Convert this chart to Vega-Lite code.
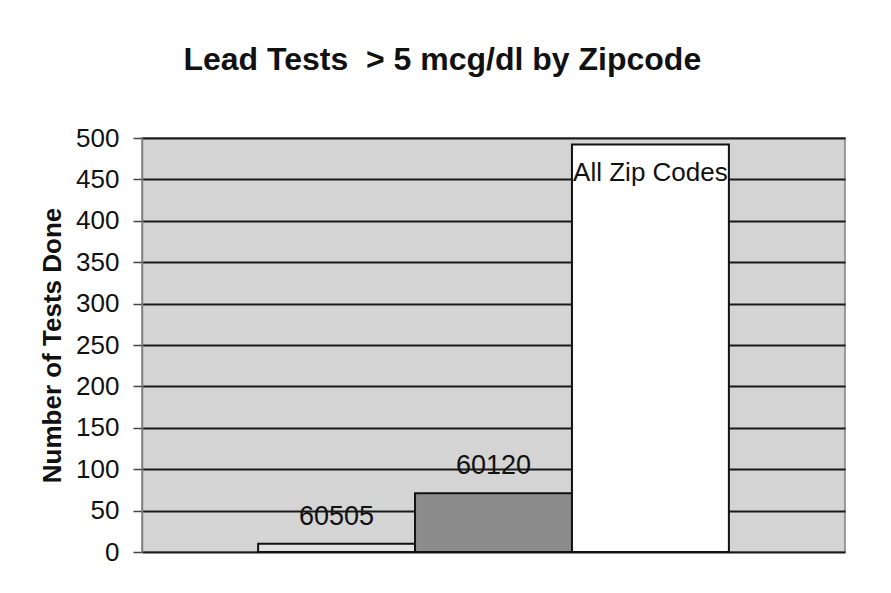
{
  "$schema": "https://vega.github.io/schema/vega-lite/v6.json",
  "width": 703,
  "height": 414,
  "autosize": "none",
  "padding": {"left": 142, "top": 138, "right": 46, "bottom": 41},
  "background": "white",
  "title": {
    "text": "Lead Tests \u00a0> 5 mcg/dl by Zipcode",
    "font": "Liberation Sans",
    "fontSize": 32,
    "fontWeight": "bold",
    "color": "#111111",
    "anchor": "middle",
    "frame": "bounds",
    "offset": 48
  },
  "config": {
    "view": {"fill": "#d4d4d4", "stroke": "#808080", "strokeWidth": 1.5}
  },
  "data": {
    "values": [
      {"zip": "60505", "tests": 10},
      {"zip": "60120", "tests": 71},
      {"zip": "All Zip Codes", "tests": 492}
    ]
  },
  "encoding": {
    "x": {
      "field": "zip",
      "type": "nominal",
      "sort": null,
      "scale": {"paddingInner": 0, "paddingOuter": 0.74},
      "axis": null
    }
  },
  "layer": [
    {
      "mark": {"type": "bar", "stroke": "#111111", "strokeWidth": 2},
      "encoding": {
        "y": {
          "field": "tests",
          "type": "quantitative",
          "scale": {"domain": [0, 500]},
          "axis": {
            "values": [0, 50, 100, 150, 200, 250, 300, 350, 400, 450, 500],
            "title": "Number of Tests Done",
            "titleFont": "Liberation Sans",
            "titleFontSize": 26,
            "titleFontWeight": "bold",
            "titleColor": "#111111",
            "titlePadding": 10,
            "labelFont": "Liberation Sans",
            "labelFontSize": 26,
            "labelColor": "#111111",
            "labelPadding": 14,
            "tickSize": 9,
            "tickColor": "#444444",
            "tickWidth": 1.5,
            "domainColor": "#808080",
            "domainWidth": 1.5,
            "grid": true,
            "gridColor": "#1a1a1a",
            "gridWidth": 1.8,
            "gridOpacity": 1
          }
        },
        "fill": {
          "field": "zip",
          "type": "nominal",
          "scale": {
            "domain": ["60505", "60120", "All Zip Codes"],
            "range": ["#e2e2e2", "#8c8c8c", "#ffffff"]
          },
          "legend": null
        }
      }
    },
    {
      "transform": [{"filter": "datum.zip !== 'All Zip Codes'"}],
      "mark": {
        "type": "text",
        "font": "Liberation Sans",
        "fontSize": 27,
        "color": "#111111",
        "baseline": "middle",
        "dy": -27
      },
      "encoding": {
        "y": {"field": "tests", "type": "quantitative"},
        "text": {"field": "zip"}
      }
    },
    {
      "transform": [{"filter": "datum.zip === 'All Zip Codes'"}],
      "mark": {
        "type": "text",
        "font": "Liberation Sans",
        "fontSize": 26,
        "color": "#111111",
        "baseline": "middle",
        "dy": 28
      },
      "encoding": {
        "y": {"field": "tests", "type": "quantitative"},
        "text": {"field": "zip"}
      }
    }
  ]
}
